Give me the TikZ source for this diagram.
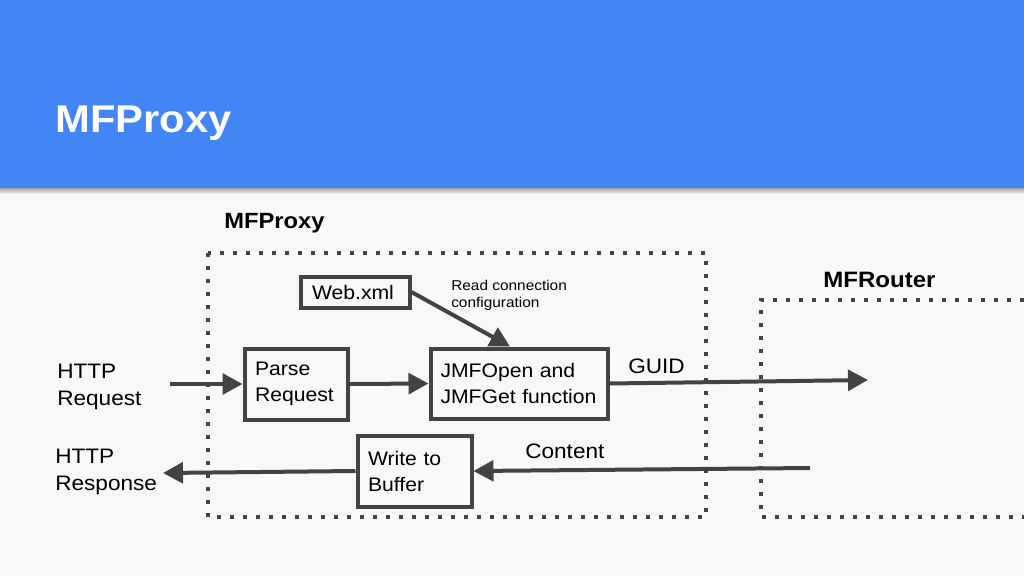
\documentclass[tikz,border=0pt]{standalone}
\usepackage{fontspec}
\setmainfont{Liberation Sans}[FakeStretch=1.08]
\usetikzlibrary{arrows.meta}
\definecolor{hdr}{HTML}{4285F4}
\definecolor{bg}{HTML}{F8F8F8}
\definecolor{ln}{HTML}{434343}
\begin{document}
\begin{tikzpicture}[x=0.75pt,y=-0.75pt,
  box/.style={draw=ln, line width=3pt, rectangle, inner sep=0pt, align=left,
    font=\fontsize{14.7pt}{19.5pt}\selectfont},
  lbl/.style={anchor=base west, inner sep=0pt, align=left,
    font=\fontsize{15.7pt}{20.25pt}\selectfont},
  arr/.style={draw=ln, line width=3pt, -{Triangle[length=15pt,width=15.5pt]}},
  dotbox/.style={draw=ln, line width=2.7pt, dash pattern=on 2.7pt off 7.05pt}]
\useasboundingbox (0,0) rectangle (1024,576);
\fill[bg] (0,0) rectangle (1024,576);
\shade[top color=black!40, bottom color=bg] (0,187) rectangle (1024,194);
\fill[hdr] (0,0) rectangle (1024,188);
\node[anchor=base west, inner sep=0pt, text=white, font=\fontsize{29pt}{34pt}\selectfont\bfseries] (title) at (55,132) {MFProxy};

% containers
\draw[dotbox] (208,253) rectangle (706,517);
\draw[dotbox] (1024,300) -- (761,300) -- (761,517) -- (1024,517);
\node[anchor=base west, inner sep=0pt, font=\fontsize{16.5pt}{20pt}\selectfont\bfseries] (lproxy) at (224,228) {MFProxy};
\node[anchor=base west, inner sep=0pt, font=\fontsize{16.7pt}{20pt}\selectfont\bfseries] (lrouter) at (823,287) {MFRouter};

% boxes
\node[box, minimum width=81.75pt, minimum height=23.25pt, text width=64.5pt] (web) at (355,292) {Web.xml};
\node[box, minimum width=77.25pt, minimum height=53.25pt, text width=61.5pt] (parse) at (296,384) {Parse\\Request};
\node[box, minimum width=132.75pt, minimum height=52.5pt, text width=117.75pt] (jmf) at (519,383.5) {JMFOpen and\\JMFGet function};
\node[box, minimum width=85.5pt, minimum height=53.25pt, text width=69.75pt] (write) at (414.5,471) {Write to\\Buffer};

% labels (base anchor = baseline of last line)
\node[lbl] (req) at (57,405) {HTTP\\Request};
\node[lbl] (resp) at (55,490) {HTTP\\Response};
\node[lbl] (guid) at (628,373) {GUID};
\node[lbl] (content) at (525,458) {Content};
\node[anchor=base west, inner sep=0pt, align=left, font=\fontsize{10.7pt}{12.75pt}\selectfont] (readcfg) at (451,307) {Read connection\\configuration};

% connectors
\coordinate (reqstart) at (170,384);
\coordinate (guidend) at (868,380);
\coordinate (contstart) at (810,468);
\coordinate (respend) at (163,473);
\draw[arr] (reqstart) -- (parse.west);
\draw[arr] (parse.east) -- (jmf.west);
\draw[arr] (jmf.east) -- (guidend);
\draw[arr] (contstart) -- (write.east);
\draw[arr] (write.west) -- (respend);
\draw[arr] (web.east) -- ([xshift=-6.75pt]jmf.north);
\end{tikzpicture}
\end{document}
